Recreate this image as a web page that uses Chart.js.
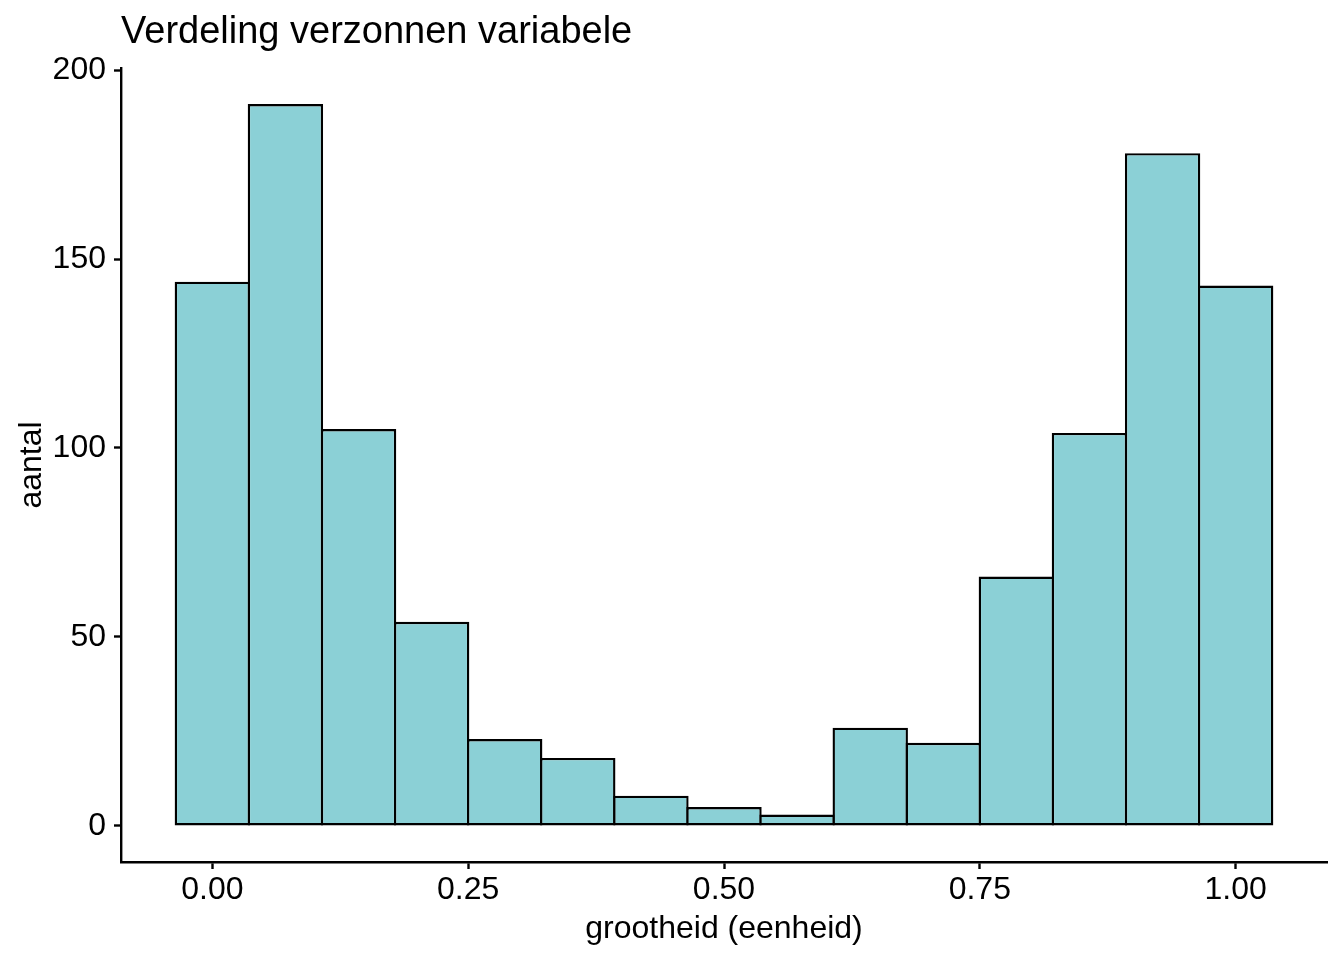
<!DOCTYPE html>
<html>
<head>
<meta charset="utf-8">
<script src="https://cdn.jsdelivr.net/npm/chart.js@4/dist/chart.umd.min.js"></script>
<style>
  html, body { margin: 0; padding: 0; background: #ffffff; }
  #wrap { width: 1344px; height: 960px; }
</style>
</head>
<body>
<div id="wrap"><canvas id="c" width="1344" height="960"></canvas></div>
<script>
// ---- data ----
const binCenters = [0.0000, 0.0714, 0.1429, 0.2143, 0.2857, 0.3571, 0.4286, 0.5000,
                    0.5714, 0.6429, 0.7143, 0.7857, 0.8571, 0.9286, 1.0000];
const counts = [144, 191, 105, 54, 23, 18, 8, 5, 3, 26, 22, 66, 104, 178, 143];
const binWidth = 0.0714;
const xTickValues = [0, 0.25, 0.5, 0.75, 1];
const xTickLabels = ['0.00', '0.25', '0.50', '0.75', '1.00'];
const yTickValues = [0, 50, 100, 150, 200];
const yTickLabels = ['0', '50', '100', '150', '200'];
const titleText = 'Verdeling verzonnen variabele';
const xTitle = 'grootheid (eenheid)';
const yTitle = 'aantal';

// ---- ranges (ggplot-style 5% expansion) ----
const xLo = binCenters[0] - binWidth / 2;
const xHi = binCenters[binCenters.length - 1] + binWidth / 2;
const xPad = (xHi - xLo) * 0.05;
const yMaxData = Math.max(...counts);
const yPad = yMaxData * 0.05;

const FONT = "'Liberation Sans', Arial, Helvetica, sans-serif";

const chart = new Chart(document.getElementById('c'), {
  type: 'bar',
  data: {
    datasets: [{
      data: binCenters.map((x, i) => ({ x: x, y: counts[i] })),
      backgroundColor: '#8BD0D6',
      borderColor: '#000000',
      borderWidth: 2.4,
      borderSkipped: false,
      barPercentage: 1.032,
      categoryPercentage: 1,
      grouped: false
    }]
  },
  options: {
    responsive: false,
    devicePixelRatio: 1,
    animation: false,
    layout: { padding: { left: 0, right: 17, top: 0, bottom: 0 } },
    plugins: {
      legend: { display: false },
      tooltip: { enabled: false },
      title: {
        display: true,
        text: titleText,
        align: 'start',
        fullSize: false,
        color: '#000000',
        font: { family: FONT, size: 38, weight: 'normal', lineHeight: 1.2 },
        padding: { top: 10, bottom: 12.4 }
      }
    },
    scales: {
      x: {
        type: 'linear',
        offset: false,
        min: xLo - xPad,
        max: xHi + xPad,
        border: { display: true, color: '#000000', width: 2.4 },
        grid: { display: true, drawOnChartArea: false, drawTicks: true, tickLength: 7,
                tickColor: '#000000', tickWidth: 2.4, offset: false },
        afterBuildTicks: (s) => { s.ticks = xTickValues.map(v => ({ value: v })); },
        ticks: {
          color: '#000000', padding: 2, maxRotation: 0, autoSkip: false,
          font: { family: FONT, size: 32, lineHeight: 1.2 },
          callback: (v) => { const i = xTickValues.indexOf(v); return i >= 0 ? xTickLabels[i] : ''; }
        },
        title: {
          display: true, text: xTitle, color: '#000000',
          font: { family: FONT, size: 32, lineHeight: 1.2 },
          padding: { top: 0, bottom: 12 }
        },
        afterFit: (s) => { s.height = 98; }
      },
      y: {
        type: 'linear',
        min: -yPad,
        max: yMaxData + yPad,
        border: { display: true, color: '#000000', width: 2.4 },
        grid: { display: true, drawOnChartArea: false, drawTicks: true, tickLength: 7,
                tickColor: '#000000', tickWidth: 2.4 },
        afterBuildTicks: (s) => { s.ticks = yTickValues.map(v => ({ value: v })); },
        ticks: {
          color: '#000000', padding: 8, autoSkip: false,
          font: { family: FONT, size: 32, lineHeight: 1.2 },
          callback: (v) => { const i = yTickValues.indexOf(v); return i >= 0 ? yTickLabels[i] : ''; }
        },
        title: {
          display: true, text: yTitle, color: '#000000',
          font: { family: FONT, size: 32, lineHeight: 1.2 },
          padding: { top: 13, bottom: 0 }
        },
        afterFit: (s) => { s.width = 121; }
      }
    }
  }
});
</script>
</body>
</html>
